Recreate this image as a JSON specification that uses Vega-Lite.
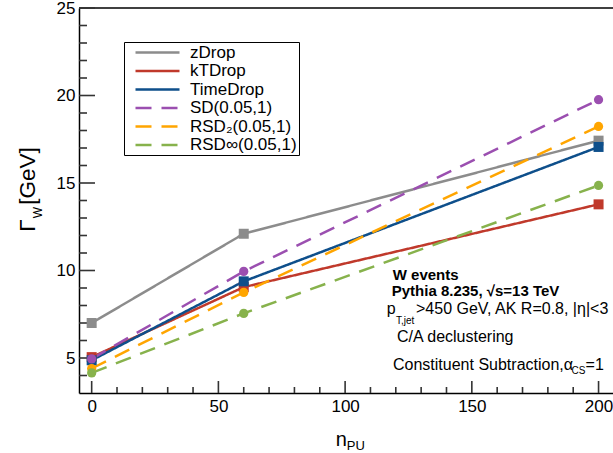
{
  "$schema": "https://vega.github.io/schema/vega-lite/v6.json",
  "width": 534,
  "height": 385,
  "autosize": {"type": "none"},
  "padding": {"left": 79, "top": 8, "right": 0, "bottom": 60},
  "background": "white",
  "config": {
    "view": {"stroke": null},
    "font": "Liberation Sans",
    "axis": {
      "labelFont": "Liberation Sans",
      "labelFontSize": 17,
      "labelColor": "black",
      "domainColor": "black",
      "domainWidth": 1.5,
      "grid": false,
      "labelOverlap": false,
      "labelFlush": false,
      "zindex": 1
    },
    "legend": {
      "labelFont": "Liberation Sans",
      "labelFontSize": 17,
      "labelColor": "black"
    }
  },
  "resolve": {"axis": {"x": "independent", "y": "independent"}},
  "data": {
    "values": [
      {"series": "zDrop", "npu": 0, "gamma": 7.0},
      {"series": "zDrop", "npu": 60, "gamma": 12.1},
      {"series": "zDrop", "npu": 200, "gamma": 17.42},
      {"series": "kTDrop", "npu": 0, "gamma": 5.05},
      {"series": "kTDrop", "npu": 60, "gamma": 9.05},
      {"series": "kTDrop", "npu": 200, "gamma": 13.78},
      {"series": "TimeDrop", "npu": 0, "gamma": 4.87},
      {"series": "TimeDrop", "npu": 60, "gamma": 9.38},
      {"series": "TimeDrop", "npu": 200, "gamma": 17.06},
      {"series": "SD(0.05,1)", "npu": 0, "gamma": 4.95},
      {"series": "SD(0.05,1)", "npu": 60, "gamma": 9.95},
      {"series": "SD(0.05,1)", "npu": 200, "gamma": 19.76},
      {"series": "RSD₂(0.05,1)", "npu": 0, "gamma": 4.4},
      {"series": "RSD₂(0.05,1)", "npu": 60, "gamma": 8.75},
      {"series": "RSD₂(0.05,1)", "npu": 200, "gamma": 18.23},
      {"series": "RSD∞(0.05,1)", "npu": 0, "gamma": 4.15},
      {"series": "RSD∞(0.05,1)", "npu": 60, "gamma": 7.55},
      {"series": "RSD∞(0.05,1)", "npu": 200, "gamma": 14.86}
    ]
  },
  "layer": [
    {
      "data": {"values": [{}]},
      "mark": {"type": "rule", "color": "black", "strokeWidth": 1.5},
      "encoding": {"y": {"datum": 25, "type": "quantitative", "axis": null}}
    },
    {
      "data": {"values": [{"tick": 5}, {"tick": 10}, {"tick": 15}, {"tick": 20}, {"tick": 25}]},
      "mark": {"type": "rule", "color": "#333333", "strokeWidth": 1.6},
      "encoding": {
        "y": {"field": "tick", "type": "quantitative", "axis": null},
        "x": {"datum": -5, "type": "quantitative", "axis": null},
        "x2": {"datum": 1.31}
      }
    },
    {
      "data": {"values": [{"tick": 4}, {"tick": 6}, {"tick": 7}, {"tick": 8}, {"tick": 9}, {"tick": 11}, {"tick": 12}, {"tick": 13}, {"tick": 14}, {"tick": 16}, {"tick": 17}, {"tick": 18}, {"tick": 19}, {"tick": 21}, {"tick": 22}, {"tick": 23}, {"tick": 24}]},
      "mark": {"type": "rule", "color": "#333333", "strokeWidth": 1.6},
      "encoding": {
        "y": {"field": "tick", "type": "quantitative", "axis": null},
        "x": {"datum": -5, "type": "quantitative", "axis": null},
        "x2": {"datum": -1.84}
      }
    },
    {
      "data": {"values": [{"tick": 0}, {"tick": 50}, {"tick": 100}, {"tick": 150}, {"tick": 200}]},
      "mark": {"type": "rule", "color": "#333333", "strokeWidth": 1.6},
      "encoding": {
        "x": {"field": "tick", "type": "quantitative", "axis": null},
        "y": {"datum": 3, "type": "quantitative", "axis": null},
        "y2": {"datum": 3.686}
      }
    },
    {
      "data": {"values": [{"tick": 10}, {"tick": 20}, {"tick": 30}, {"tick": 40}, {"tick": 60}, {"tick": 70}, {"tick": 80}, {"tick": 90}, {"tick": 110}, {"tick": 120}, {"tick": 130}, {"tick": 140}, {"tick": 160}, {"tick": 170}, {"tick": 180}, {"tick": 190}]},
      "mark": {"type": "rule", "color": "#333333", "strokeWidth": 1.6},
      "encoding": {
        "x": {"field": "tick", "type": "quantitative", "axis": null},
        "y": {"datum": 3, "type": "quantitative", "axis": null},
        "y2": {"datum": 3.343}
      }
    },
    {
      "mark": {"type": "line", "strokeWidth": 2.5},
      "encoding": {
        "x": {
          "field": "npu",
          "type": "quantitative",
          "title": null,
          "scale": {"domain": [-5, 205.7], "nice": false, "zero": false},
          "axis": {
            "orient": "bottom",
            "values": [0, 50, 100, 150, 200],
            "ticks": true,
            "tickSize": -12,
            "tickOpacity": 0,
            "labelPadding": 17,
            "labelOverlap": false
          }
        },
        "y": {
          "field": "gamma",
          "type": "quantitative",
          "title": null,
          "scale": {"domain": [3, 25], "nice": false, "zero": false},
          "axis": {
            "orient": "left",
            "values": [5, 10, 15, 20, 25],
            "ticks": true,
            "tickSize": -16,
            "tickOpacity": 0,
            "labelPadding": 20,
            "labelOverlap": false
          }
        },
        "color": {
          "field": "series",
          "type": "nominal",
          "title": null,
          "scale": {
            "domain": ["zDrop", "kTDrop", "TimeDrop", "SD(0.05,1)", "RSD₂(0.05,1)", "RSD∞(0.05,1)"],
            "range": ["#8c8c8c", "#c0392b", "#0e4f8b", "#9b4fb0", "#ffa500", "#87b24c"]
          },
          "legend": {
            "orient": "none",
            "legendX": 45,
            "legendY": 34,
            "symbolType": "M-4,0L4,0",
            "symbolSize": 121,
            "symbolStrokeWidth": 2.5,
            "strokeColor": "black",
            "fillColor": "white",
            "padding": 2,
            "rowPadding": 0.5,
            "symbolOffset": 23,
            "labelOffset": 24
          }
        },
        "strokeDash": {
          "field": "series",
          "type": "nominal",
          "title": null,
          "scale": {
            "domain": ["zDrop", "kTDrop", "TimeDrop", "SD(0.05,1)", "RSD₂(0.05,1)", "RSD∞(0.05,1)"],
            "range": [[1, 0], [1, 0], [1, 0], [16, 10], [16, 10], [16, 10]]
          }
        }
      }
    },
    {
      "transform": [{"filter": {"field": "series", "oneOf": ["zDrop", "kTDrop", "TimeDrop"]}}],
      "mark": {"type": "square", "filled": true, "opacity": 1, "size": 100, "strokeWidth": 0},
      "encoding": {
        "x": {"field": "npu", "type": "quantitative", "axis": null},
        "y": {"field": "gamma", "type": "quantitative", "axis": null},
        "fill": {
          "field": "series",
          "type": "nominal",
          "legend": null,
          "scale": {
            "domain": ["zDrop", "kTDrop", "TimeDrop", "SD(0.05,1)", "RSD₂(0.05,1)", "RSD∞(0.05,1)"],
            "range": ["#8c8c8c", "#c0392b", "#0e4f8b", "#9b4fb0", "#ffa500", "#87b24c"]
          }
        }
      }
    },
    {
      "transform": [{"filter": {"field": "series", "oneOf": ["SD(0.05,1)", "RSD₂(0.05,1)", "RSD∞(0.05,1)"]}}],
      "mark": {"type": "circle", "filled": true, "opacity": 1, "size": 85, "strokeWidth": 0},
      "encoding": {
        "x": {"field": "npu", "type": "quantitative", "axis": null},
        "y": {"field": "gamma", "type": "quantitative", "axis": null},
        "fill": {"field": "series", "type": "nominal", "legend": null}
      }
    },
    {
      "data": {"values": [{}]},
      "mark": {"type": "text", "text": "Γ", "fontSize": 22.5, "angle": 270, "align": "left", "baseline": "alphabetic", "color": "black"},
      "encoding": {"x": {"datum": -22.36, "type": "quantitative", "axis": null}, "y": {"datum": 12.22, "type": "quantitative", "axis": null}}
    },
    {
      "data": {"values": [{}]},
      "mark": {"type": "text", "text": "W", "fontSize": 12, "angle": 270, "align": "left", "baseline": "alphabetic", "color": "black", "dx": 13.5, "dy": 7},
      "encoding": {"x": {"datum": -22.36, "type": "quantitative", "axis": null}, "y": {"datum": 12.22, "type": "quantitative", "axis": null}}
    },
    {
      "data": {"values": [{}]},
      "mark": {"type": "text", "text": "[GeV]", "fontSize": 22.5, "angle": 270, "align": "left", "baseline": "alphabetic", "color": "black", "dx": 27},
      "encoding": {"x": {"datum": -22.36, "type": "quantitative", "axis": null}, "y": {"datum": 12.22, "type": "quantitative", "axis": null}}
    },
    {
      "data": {"values": [{}]},
      "mark": {"type": "text", "text": "n", "fontSize": 20, "align": "left", "baseline": "alphabetic", "color": "black"},
      "encoding": {"x": {"datum": 96.29, "type": "quantitative", "axis": null}, "y": {"datum": -0.05, "type": "quantitative", "axis": null}}
    },
    {
      "data": {"values": [{}]},
      "mark": {"type": "text", "text": "PU", "fontSize": 13, "align": "left", "baseline": "alphabetic", "color": "black"},
      "encoding": {"x": {"datum": 100.63, "type": "quantitative", "axis": null}, "y": {"datum": -0.26, "type": "quantitative", "axis": null}}
    },
    {
      "data": {"values": [{}]},
      "mark": {"type": "text", "text": "W events", "fontSize": 15, "fontWeight": "bold", "align": "left", "baseline": "alphabetic", "color": "black"},
      "encoding": {"x": {"datum": 118.78, "type": "quantitative", "axis": null}, "y": {"datum": 9.46, "type": "quantitative", "axis": null}}
    },
    {
      "data": {"values": [{}]},
      "mark": {"type": "text", "text": "Pythia 8.235, √s=13 TeV", "fontSize": 15, "fontWeight": "bold", "align": "left", "baseline": "alphabetic", "color": "black"},
      "encoding": {"x": {"datum": 118.39, "type": "quantitative", "axis": null}, "y": {"datum": 8.55, "type": "quantitative", "axis": null}}
    },
    {
      "data": {"values": [{}]},
      "mark": {"type": "text", "text": "p", "fontSize": 16, "align": "left", "baseline": "alphabetic", "color": "black"},
      "encoding": {"x": {"datum": 116.41, "type": "quantitative", "axis": null}, "y": {"datum": 7.51, "type": "quantitative", "axis": null}}
    },
    {
      "data": {"values": [{}]},
      "mark": {"type": "text", "text": "T,jet", "fontSize": 10, "align": "left", "baseline": "alphabetic", "color": "black"},
      "encoding": {"x": {"datum": 120.08, "type": "quantitative", "axis": null}, "y": {"datum": 6.94, "type": "quantitative", "axis": null}}
    },
    {
      "data": {"values": [{}]},
      "mark": {"type": "text", "text": ">450 GeV, AK R=0.8, |η|<3", "fontSize": 16, "align": "left", "baseline": "alphabetic", "color": "black"},
      "encoding": {"x": {"datum": 127.97, "type": "quantitative", "axis": null}, "y": {"datum": 7.51, "type": "quantitative", "axis": null}}
    },
    {
      "data": {"values": [{}]},
      "mark": {"type": "text", "text": "C/A declustering", "fontSize": 16, "align": "left", "baseline": "alphabetic", "color": "black"},
      "encoding": {"x": {"datum": 120.47, "type": "quantitative", "axis": null}, "y": {"datum": 5.94, "type": "quantitative", "axis": null}}
    },
    {
      "data": {"values": [{}]},
      "mark": {"type": "text", "text": "Constituent Subtraction,α", "fontSize": 16, "align": "left", "baseline": "alphabetic", "color": "black"},
      "encoding": {"x": {"datum": 118.9, "type": "quantitative", "axis": null}, "y": {"datum": 4.31, "type": "quantitative", "axis": null}}
    },
    {
      "data": {"values": [{}]},
      "mark": {"type": "text", "text": "CS", "fontSize": 10, "align": "left", "baseline": "alphabetic", "color": "black"},
      "encoding": {"x": {"datum": 189.33, "type": "quantitative", "axis": null}, "y": {"datum": 4.09, "type": "quantitative", "axis": null}}
    },
    {
      "data": {"values": [{}]},
      "mark": {"type": "text", "text": "=1", "fontSize": 16, "align": "left", "baseline": "alphabetic", "color": "black"},
      "encoding": {"x": {"datum": 194.89, "type": "quantitative", "axis": null}, "y": {"datum": 4.31, "type": "quantitative", "axis": null}}
    }
  ]
}
